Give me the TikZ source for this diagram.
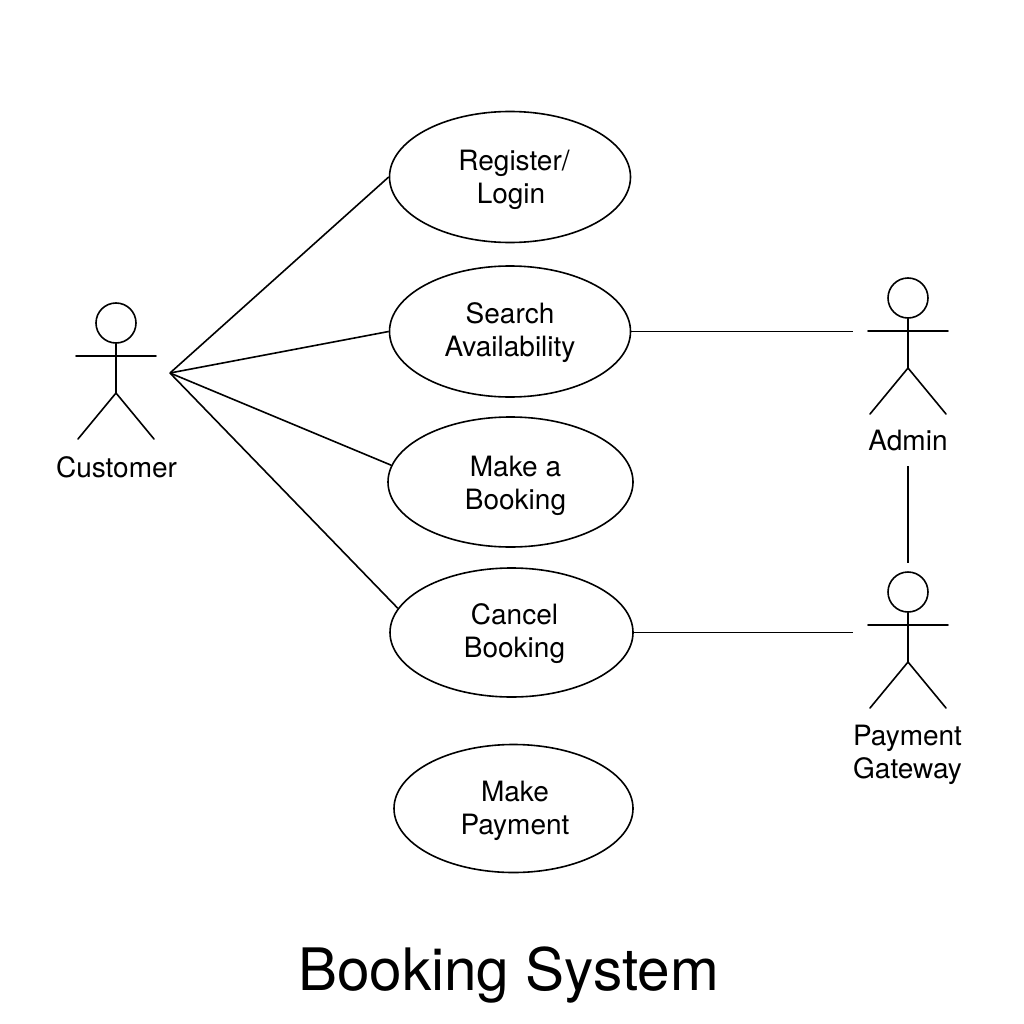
\documentclass[tikz,border=0pt]{standalone}
\usepackage{fontspec}
\setmainfont{TeX Gyre Heros}
\usetikzlibrary{shapes.geometric}

\newcommand{\actorman}[2]{%
  \node[head node] (#1head) at #2 {};
  \coordinate (#1hip) at ([yshift=-70pt]#1head.center);
  \coordinate (#1larm) at ([xshift=-40pt,yshift=-33pt]#1head.center);
  \coordinate (#1rarm) at ([xshift=40pt,yshift=-33pt]#1head.center);
  \coordinate (#1lleg) at ([xshift=-38pt,yshift=-116pt]#1head.center);
  \coordinate (#1rleg) at ([xshift=38pt,yshift=-116pt]#1head.center);
  \draw[actor line] (#1head) -- (#1hip) (#1larm) -- (#1rarm)
    (#1lleg) -- (#1hip) -- (#1rleg);
}
\newcommand{\dropline}[1]{\rule{0pt}{#1pt}}

\begin{document}
\begin{tikzpicture}[x=1pt,y=-1pt,line width=1.6pt,
    use case/.style={ellipse,draw,inner sep=0pt,align=center,font=\fontsize{28}{33}\selectfont},
    head node/.style={circle,draw,inner sep=0pt,minimum size=40pt},
    actor line/.style={line cap=round},
    actor label/.style={align=center,font=\fontsize{28}{33}\selectfont}]
    \useasboundingbox (0,0) rectangle (1024,1024);

    \node[use case,minimum width=241pt,minimum height=131pt] (register) at (510,177) {\hspace*{8pt}\dropline{26}Register/\\\hspace*{2pt}Login};
    \node[use case,minimum width=241pt,minimum height=131pt] (search) at (510,331.5) {\dropline{24}Search\\Availability};
    \node[use case,minimum width=245pt,minimum height=130pt] (booking) at (510.5,482) {\hspace*{10pt}\dropline{28}Make a\\\hspace*{10pt}Booking};
    \node[use case,minimum width=243pt,minimum height=129pt] (cancel) at (511.5,632.5) {\hspace*{6pt}\dropline{23}Cancel\\\hspace*{6pt}Booking};
    \node[use case,minimum width=239pt,minimum height=128pt] (payment) at (513.5,808.5) {\hspace*{3pt}\dropline{26}Make\\\hspace*{3pt}Payment};

    \actorman{customer}{(116,323)}
    \actorman{admin}{(908,298)}
    \actorman{gateway}{(908,592)}

    \node[actor label] (customerlabel) at (116.5,467) {Customer};
    \node[actor label] (adminlabel) at (908,441) {Admin};
    \node[actor label] (gatewaylabel) at (907.5,755) {Payment\\Gateway};
    \node[font=\fontsize{58.5}{70}\selectfont] (title) at (508.5,975) {Booking System};

    \coordinate (customerhand) at (170,373);
    \coordinate (adminhand) at (853,331.5);
    \coordinate (gatewayhand) at (853,632.5);
    \coordinate (admindown) at (908,466);
    \coordinate (gatewayup) at (908,563);

    \path
        (customerhand) edge (register.west)
        (customerhand) edge (search.west)
        (customerhand) edge (booking.172)
        (customerhand) edge (cancel.168)
        (search.east) edge (adminhand)
        (cancel.east) edge (gatewayhand)
        (admindown) edge (gatewayup)
        ;
\end{tikzpicture}
\end{document}
